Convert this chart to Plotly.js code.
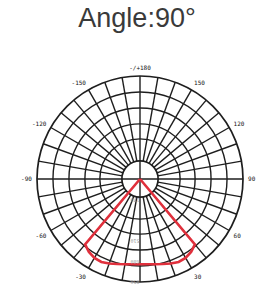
<!DOCTYPE html>
<html><head><meta charset="utf-8">
<script src="https://cdn.plot.ly/plotly-3.0.1.min.js"></script>
<style>html,body{margin:0;padding:0;background:#fff}#chart{width:261px;height:291px}</style>
</head><body><div id="chart"></div>
<script>
// Angular grid (every 10 degrees) and its labels
const angleTicks = [0,10,20,30,40,50,60,70,80,90,100,110,120,130,140,150,160,170,180,190,200,210,220,230,240,250,260,270,280,290,300,310,320,330,340,350];
const angleLabels = ["","","","30","","","60","","","90","","","120","","","150","","","-/+180","","","-150","","","-120","","","-90","","","-60","","","-30","",""];
// Ring circles (fraction of outer radius)
const ringFractions = [0.176, 0.39, 0.535, 0.69, 0.845];
// Radial value labels (cd)
const radialTickValues = [170, 510, 680, 850];
const radialTickLabels = ["170", "510", "680", "850"];
// Light distribution curve
const beamAngles = [-45,-40,-35,-30,-25,-20,-15,-10,-5,0,5,10,15,20,25,30,35,40,45];
const beamIntensity = [0,705,735,752,755,742,726,714,706,704,706,714,726,742,755,752,735,705,0];
// Centre cross (inside inner circle)
const crossR = [150, 150];
const crossH = [90, 270];
const crossV = [0, 180];

const gridColor = '#1e1e1e';
const dom = {x: [37/261, 243/261], y: [9/291, 215/291]};

const traces = [
  {type:'scatterpolar', subplot:'polar', r: [], theta: [], mode:'lines', hoverinfo:'skip', showlegend:false},
  {type:'scatterpolar', subplot:'polar2', r: crossR, theta: crossH, mode:'lines', line:{color:gridColor, width:1.4}, hoverinfo:'skip', showlegend:false},
  {type:'scatterpolar', subplot:'polar2', r: crossR, theta: crossV, mode:'lines', line:{color:gridColor, width:1.4}, hoverinfo:'skip', showlegend:false},
  {type:'scatterpolar', subplot:'polar2', r: beamIntensity, theta: beamAngles, mode:'lines',
   line:{color:'#e0303c', width:2.6}, showlegend:false}
];

const layout = {
  width:261, height:291,
  margin:{l:0,r:0,t:0,b:0},
  paper_bgcolor:'#fff',
  showlegend:false,
  title:{text:'Angle:90°', font:{family:'Liberation Sans, Arial, sans-serif', size:27, color:'#3a3a3a'},
         x:0.525, xanchor:'center', xref:'paper', y:0.94, yanchor:'middle', yref:'container'},
  polar:{
    domain: dom, hole:0.176, bgcolor:'#fff',
    radialaxis:{range:[0.176,1], tickmode:'array', tickvals: ringFractions, showticklabels:false, ticks:'',
      showline:false, showgrid:true, gridcolor:gridColor, gridwidth:1.4},
    angularaxis:{rotation:270, direction:'counterclockwise', tickmode:'array', tickvals: angleTicks, ticktext: angleLabels,
      ticks:'outside', ticklen:3, tickcolor:'rgba(0,0,0,0)', showgrid:true, gridcolor:gridColor, gridwidth:1.4,
      showline:true, linecolor:gridColor, linewidth:1.7,
      tickfont:{family:'DejaVu Sans Mono, monospace', size:6, color:'#111'}}
  },
  polar2:{
    domain: dom, bgcolor:'rgba(0,0,0,0)',
    radialaxis:{range:[0,850], angle:270, tickangle:90, tickmode:'array', tickvals: radialTickValues, ticktext: radialTickLabels,
      showgrid:false, showline:false, ticks:'', tickfont:{family:'DejaVu Sans Mono, monospace', size:5, color:'#999'}},
    angularaxis:{rotation:270, direction:'counterclockwise', visible:false}
  }
};
Plotly.newPlot('chart', traces, layout, {staticPlot:true, displayModeBar:false});
</script></body></html>
